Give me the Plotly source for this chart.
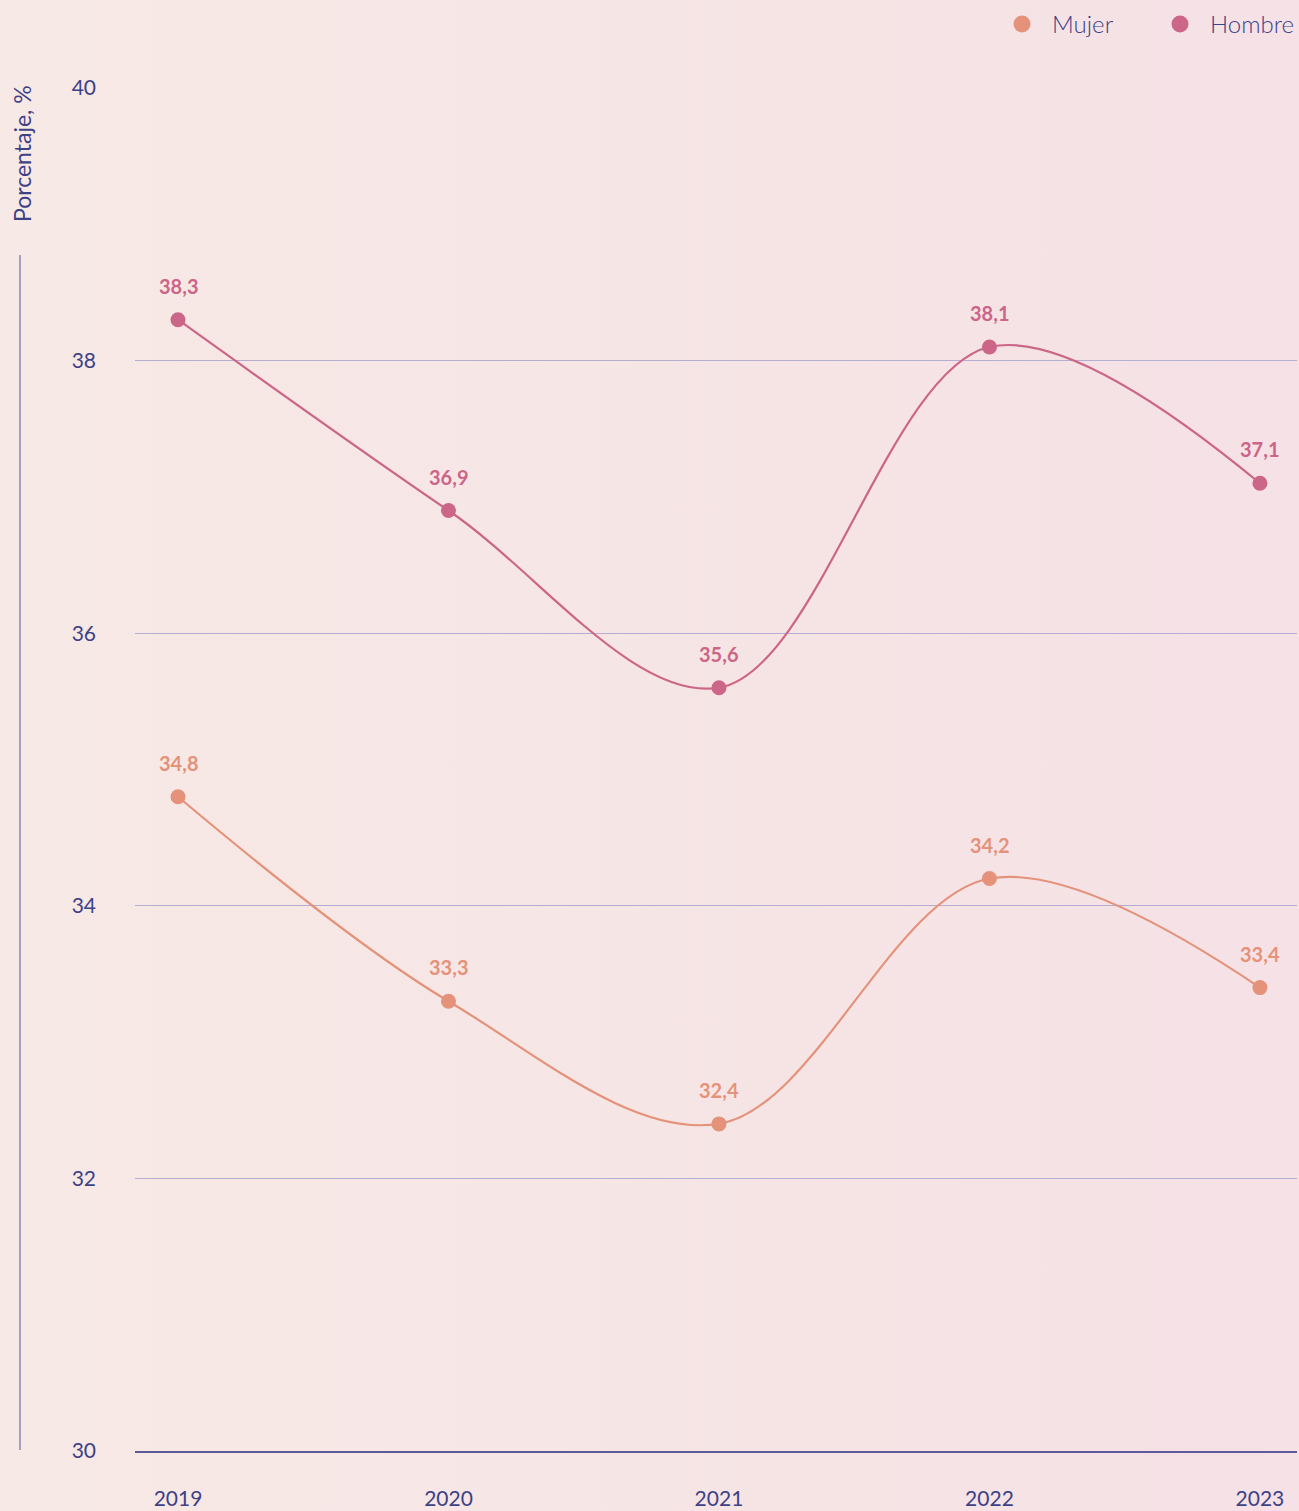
import base64
import plotly.graph_objects as go

years = ["2019", "2020", "2021", "2022", "2023"]
mujer = [34.8, 33.3, 32.4, 34.2, 33.4]
hombre = [38.3, 36.9, 35.6, 38.1, 37.1]
y_ticks = [30, 32, 34, 36, 38, 40]
series_names = ["Mujer", "Hombre"]

C_MUJER = "#e4937a"
C_HOMBRE = "#cc6688"
C_TEXT = "#3d4185"
BG = "#f6e5e5"
FONT = "Lato, Open Sans, sans-serif"

W, H = 1299, 1511
ML, MR, MT, MB = 135, 2, 88, 60
PW = W - ML - MR
PH = H - MT - MB


def px_x(px):
    return (px - ML) / PW


def px_y(py):
    return 1 - (py - MT) / PH


fig = go.Figure()

series = [(series_names[0], mujer, C_MUJER), (series_names[1], hombre, C_HOMBRE)]
for name, vals, col in series:
    fig.add_trace(go.Scatter(
        x=years, y=vals, mode="lines+markers", name=name, showlegend=False,
        line=dict(color=col, width=2.2, shape="spline", smoothing=1.0),
        marker=dict(color=col, size=15),
        hoverinfo="skip",
    ))
    for i, yv in enumerate(vals):
        fig.add_annotation(
            x=i, y=yv, xref="x", yref="y",
            text=f"<b>{yv:.1f}</b>".replace(".", ","),
            showarrow=False, yshift=34, yanchor="middle",
            font=dict(family=FONT, size=20, color=col),
        )

# manual legend (top right)
legend_pos = [(1022, 1050), (1180, 1208)]
for (name, vals, col), (mx, tx) in zip(series, legend_pos):
    fig.add_shape(
        type="circle", xref="paper", yref="paper",
        xsizemode="pixel", ysizemode="pixel",
        xanchor=px_x(mx), yanchor=px_y(24),
        x0=-8.5, x1=8.5, y0=-8.5, y1=8.5,
        fillcolor=col, line=dict(width=0),
    )
    fig.add_annotation(
        xref="paper", yref="paper", x=px_x(tx), y=px_y(23),
        text=name, showarrow=False, xanchor="left", yanchor="middle",
        font=dict(family=FONT, size=24, color=C_TEXT, weight=300),
    )

# y-axis title and decorative vertical line
fig.add_annotation(
    xref="paper", yref="paper",
    x=px_x(22), y=px_y(154),
    text="Porcentaje, %", textangle=-90, showarrow=False,
    xanchor="center", yanchor="middle",
    font=dict(family=FONT, size=23, color=C_TEXT),
)
fig.add_shape(
    type="line", xref="paper", yref="paper",
    x0=px_x(20), x1=px_x(20),
    y0=px_y(255), y1=px_y(1450),
    line=dict(color="#8a87b5", width=1.5),
)

# soft horizontal gradient background
svg = (
    f'<svg xmlns="http://www.w3.org/2000/svg" width="{W}" height="{H}">'
    '<defs><linearGradient id="g" x1="0" y1="0" x2="1" y2="0">'
    '<stop offset="0" stop-color="#f7e9e5"/>'
    '<stop offset="0.5" stop-color="#f6e5e5"/>'
    '<stop offset="1" stop-color="#f5e1e6"/>'
    '</linearGradient></defs>'
    f'<rect width="{W}" height="{H}" fill="url(#g)"/></svg>'
)
svg_uri = "data:image/svg+xml;base64," + base64.b64encode(svg.encode()).decode()
fig.add_layout_image(
    source=svg_uri, xref="paper", yref="paper",
    x=px_x(0), y=px_y(0), sizex=W / PW, sizey=H / PH,
    xanchor="left", yanchor="top", sizing="stretch", layer="below",
)

fig.update_layout(
    width=W, height=H,
    margin=dict(l=ML, r=MR, t=MT, b=MB, autoexpand=False),
    paper_bgcolor=BG, plot_bgcolor="rgba(0,0,0,0)",
    font=dict(family=FONT, color=C_TEXT),
    showlegend=False,
    hovermode=False,
    xaxis=dict(
        type="category", range=[-0.159, 4.137],
        showgrid=False, zeroline=False, showline=True,
        linecolor="#5d5a99", linewidth=1.5,
        tickfont=dict(family=FONT, size=21, color=C_TEXT),
        ticks="", ticklabelstandoff=28, automargin=False,
    ),
    yaxis=dict(
        range=[30, 40], tickvals=y_ticks,
        showgrid=True, gridcolor="#b4aed2", gridwidth=1,
        zeroline=False, showline=False,
        tickfont=dict(family=FONT, size=21, color=C_TEXT),
        ticks="", ticklabelstandoff=38, automargin=False,
    ),
)

fig.write_html(
    "out.html",
    config={"displayModeBar": False},
    post_script="document.body.style.margin='0';",
)
